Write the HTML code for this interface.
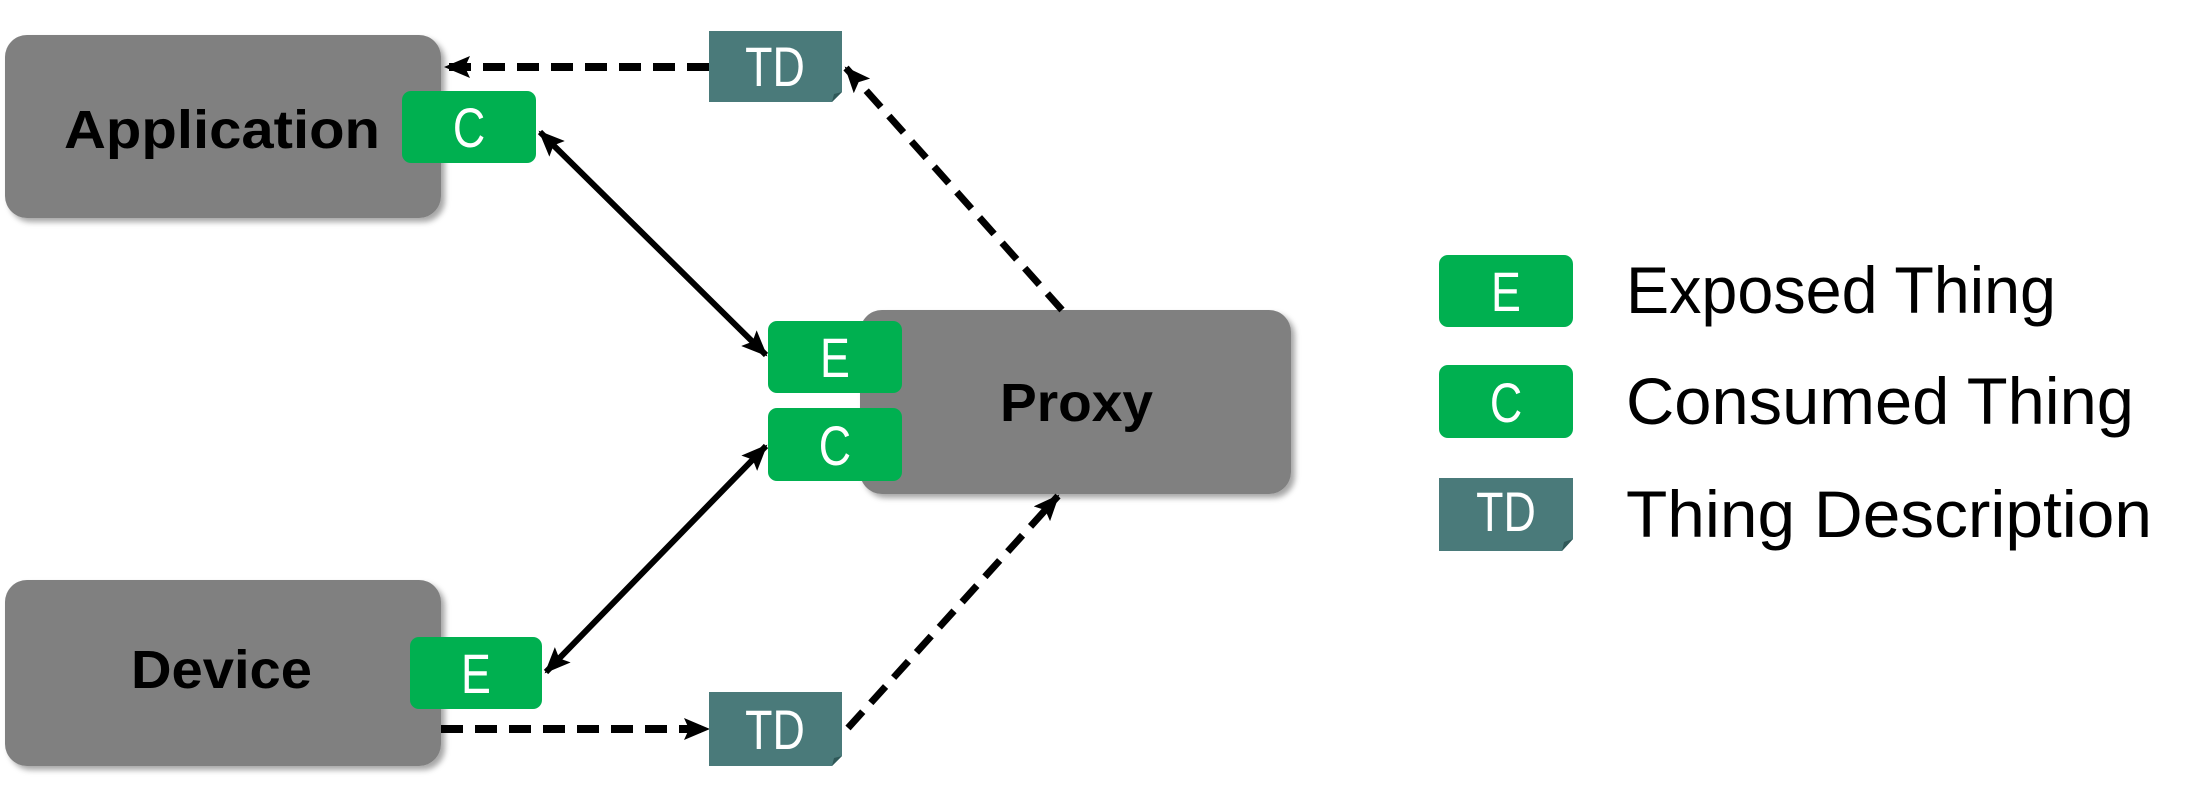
<!DOCTYPE html>
<html><head><meta charset="utf-8"><style>
html,body{margin:0;padding:0;background:#fff;}
svg{display:block;}
text{font-family:"Liberation Sans",sans-serif;}
</style></head><body>
<svg width="2200" height="803" viewBox="0 0 2200 803" xmlns="http://www.w3.org/2000/svg">
<defs>
<filter id="sh" x="-10%" y="-10%" width="130%" height="130%"><feDropShadow dx="4" dy="4" stdDeviation="3" flood-color="#000" flood-opacity="0.35"/></filter>
<marker id="ah2" markerWidth="26" markerHeight="22" refX="24" refY="11" orient="auto-start-reverse" markerUnits="userSpaceOnUse" viewBox="0 0 26 22">
<path d="M0,0 L26,11 L0,22 L5,11 z" fill="#000"/></marker>
</defs>

<rect x="5" y="35" width="436" height="183" rx="22" fill="#808080" filter="url(#sh)"/>
<rect x="5" y="580" width="436" height="186" rx="22" fill="#808080" filter="url(#sh)"/>
<rect x="860" y="310" width="431" height="184" rx="22" fill="#808080" filter="url(#sh)"/>

<text x="64" y="148" font-size="54" font-weight="bold" fill="#000" textLength="316" lengthAdjust="spacingAndGlyphs">Application</text>
<text x="131" y="688" font-size="54" font-weight="bold" fill="#000" textLength="181" lengthAdjust="spacingAndGlyphs">Device</text>
<text x="1000" y="421" font-size="54" font-weight="bold" fill="#000" textLength="153" lengthAdjust="spacingAndGlyphs">Proxy</text>

<line x1="709" y1="67" x2="446" y2="67" stroke="#000" stroke-width="8" stroke-dasharray="22,12" marker-end="url(#ah2)"/>
<line x1="441" y1="729" x2="708" y2="729" stroke="#000" stroke-width="8" stroke-dasharray="22,12" marker-end="url(#ah2)"/>
<line x1="1062" y1="310" x2="846" y2="68" stroke="#000" stroke-width="7" stroke-dasharray="22,12" marker-end="url(#ah2)"/>
<line x1="848" y1="728" x2="1058" y2="496" stroke="#000" stroke-width="7" stroke-dasharray="22,12" marker-end="url(#ah2)"/>
<line x1="540" y1="132" x2="766" y2="355" stroke="#000" stroke-width="6" marker-start="url(#ah2)" marker-end="url(#ah2)"/>
<line x1="766" y1="446" x2="546" y2="672" stroke="#000" stroke-width="6" marker-start="url(#ah2)" marker-end="url(#ah2)"/>

<g font-size="56" fill="#fff" text-anchor="middle">
<rect x="402" y="91" width="134" height="72" rx="9" fill="#00b050"/>
<text x="469" y="147" transform="translate(469 0) scale(0.8 1) translate(-469 0)">C</text>
<rect x="768" y="321" width="134" height="72" rx="9" fill="#00b050"/>
<text x="835" y="377" transform="translate(835 0) scale(0.8 1) translate(-835 0)">E</text>
<rect x="768" y="408" width="134" height="73" rx="9" fill="#00b050"/>
<text x="835" y="465" transform="translate(835 0) scale(0.8 1) translate(-835 0)">C</text>
<rect x="410" y="637" width="132" height="72" rx="9" fill="#00b050"/>
<text x="476" y="693" transform="translate(476 0) scale(0.8 1) translate(-476 0)">E</text>

<path d="M709,31 H842 V92 L832,102 H709 Z" fill="#4a7a7a"/>
<path d="M842,92 L832,102 L834,94 Z" fill="#2f5858"/>
<text x="775" y="86" transform="translate(775 0) scale(0.8 1) translate(-775 0)">TD</text>
<path d="M709,692 H842 V756 L832,766 H709 Z" fill="#4a7a7a"/>
<path d="M842,756 L832,766 L834,758 Z" fill="#2f5858"/>
<text x="775" y="749" transform="translate(775 0) scale(0.8 1) translate(-775 0)">TD</text>

<rect x="1439" y="255" width="134" height="72" rx="9" fill="#00b050"/>
<text x="1506" y="311" transform="translate(1506 0) scale(0.8 1) translate(-1506 0)">E</text>
<rect x="1439" y="365" width="134" height="73" rx="9" fill="#00b050"/>
<text x="1506" y="422" transform="translate(1506 0) scale(0.8 1) translate(-1506 0)">C</text>
<path d="M1439,478 H1573 V539 L1562,551 H1439 Z" fill="#4a7a7a"/>
<path d="M1573,539 L1562,551 L1564,542 Z" fill="#2f5858"/>
<text x="1506" y="531" transform="translate(1506 0) scale(0.8 1) translate(-1506 0)">TD</text>
</g>

<text x="1626" y="313" font-size="66" fill="#000" textLength="430" lengthAdjust="spacingAndGlyphs">Exposed Thing</text>
<text x="1626" y="424" font-size="66" fill="#000" textLength="508" lengthAdjust="spacingAndGlyphs">Consumed Thing</text>
<text x="1626" y="537" font-size="66" fill="#000" textLength="526" lengthAdjust="spacingAndGlyphs">Thing Description</text>
</svg>
</body></html>
